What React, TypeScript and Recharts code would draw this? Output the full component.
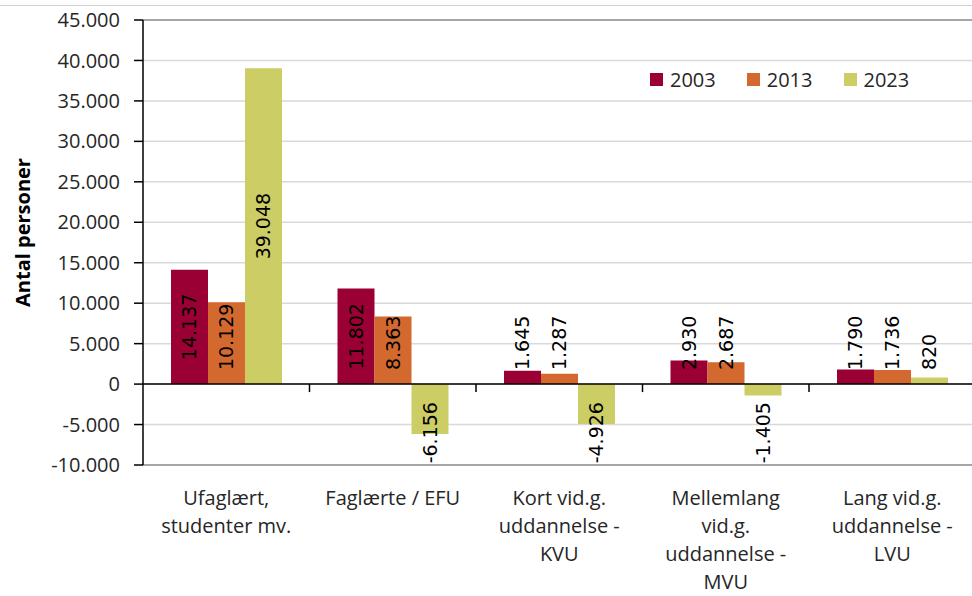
import React from 'react';
import { BarChart, Bar, XAxis, YAxis, CartesianGrid, ReferenceLine, LabelList, Legend } from 'recharts';

const categories = [
  'Ufaglært,\nstudenter mv.',
  'Faglærte / EFU',
  'Kort vid.g.\nuddannelse -\nKVU',
  'Mellemlang\nvid.g.\nuddannelse -\nMVU',
  'Lang vid.g.\nuddannelse -\nLVU',
];
const values2003 = [14137, 11802, 1645, 2930, 1790];
const values2013 = [10129, 8363, 1287, 2687, 1736];
const values2023 = [39048, -6156, -4926, -1405, 820];
const seriesNames = ['2003', '2013', '2023'];
const seriesColors = ['#9b0035', '#d4692f', '#cdcd66'];
const yTicks = [-10000, -5000, 0, 5000, 10000, 15000, 20000, 25000, 30000, 35000, 40000, 45000];
const yAxisTitle = 'Antal personer';

const data = categories.map((c, i) => ({
  category: c,
  y2003: values2003[i],
  y2013: values2013[i],
  y2023: values2023[i],
}));
const seriesKeys = ['y2003', 'y2013', 'y2023'];

const fmt = (n: number) => {
  const s = Math.abs(Math.round(n)).toString().replace(/\B(?=(\d{3})+(?!\d))/g, '.');
  return (n < 0 ? '-' : '') + s;
};

const LABEL_FONT = 19;
const textLen = (s: string) => {
  let em = 0;
  for (const ch of s) {
    if (ch === '.') em += 0.318;
    else if (ch === '-') em += 0.361;
    else em += 0.636;
  }
  return em * LABEL_FONT;
};

const BarLabel = (props: any) => {
  const vb = props.viewBox || props;
  const x = Number(vb.x ?? props.x);
  const y = Number(vb.y ?? props.y);
  const w = Number(vb.width ?? props.width);
  const h = Number(vb.height ?? props.height);
  const v = Number(props.value);
  if (isNaN(v)) return null;
  const text = fmt(v);
  const L = textLen(text);
  const top = Math.min(y, y + h);
  const bottom = Math.max(y, y + h);
  const cx = x + w / 2;
  const center = (top + bottom) / 2;
  if (v >= 0) {
    const lb = Math.min(center + L / 2, bottom - 14);
    return (
      <text
        x={cx}
        y={lb}
        transform={`rotate(-90 ${cx} ${lb})`}
        textAnchor="start"
        dominantBaseline="central"
        fontFamily="DejaVu Sans"
        fontSize={LABEL_FONT}
        fill="#000"
      >
        {text}
      </text>
    );
  }
  const lt = Math.max(center - L / 2, top + 18);
  return (
    <text
      x={cx}
      y={lt}
      transform={`rotate(-90 ${cx} ${lt})`}
      textAnchor="end"
      dominantBaseline="central"
      fontFamily="DejaVu Sans"
      fontSize={LABEL_FONT}
      fill="#000"
    >
      {text}
    </text>
  );
};

const XTick = (props: any) => {
  const { x, y, payload } = props;
  const lines = String(payload.value).split('\n');
  return (
    <text x={x} y={y} textAnchor="middle" fontFamily="Open Sans" fontSize={20} fill="#262626">
      {lines.map((l, i) => (
        <tspan key={i} x={x} dy={i === 0 ? 40 : 28}>
          {l}
        </tspan>
      ))}
    </text>
  );
};

const ZeroLine = (props: any) => {
  const { x1, y1, x2, y2 } = props;
  const n = categories.length;
  const step = (x2 - x1) / n;
  const ticks = [];
  for (let i = 1; i < n; i++) {
    const tx = x1 + i * step;
    ticks.push(<line key={i} x1={tx} y1={y1} x2={tx} y2={y1 + 8} stroke="#000" strokeWidth={1.5} />);
  }
  return (
    <g>
      <line x1={x1} y1={y1} x2={x2} y2={y2} stroke="#000" strokeWidth={1.5} />
      {ticks}
    </g>
  );
};

const LegendContent = () => (
  <div style={{ display: 'flex', alignItems: 'center', fontFamily: 'Open Sans', fontSize: 20, color: '#262626' }}>
    {seriesNames.map((n, i) => (
      <div key={n} style={{ display: 'flex', alignItems: 'center', marginRight: 31 }}>
        <div style={{ width: 13, height: 13, background: seriesColors[i], marginRight: 7 }} />
        <span>{n}</span>
      </div>
    ))}
  </div>
);

const YTitle = (props: any) => {
  const vb = props.viewBox || {};
  const cx = (vb.x ?? 0) + 22;
  const cy = (vb.y ?? 0) + (vb.height ?? 0) / 2 - 10;
  return (
    <text
      x={cx}
      y={cy}
      transform={`rotate(-90 ${cx} ${cy})`}
      textAnchor="middle"
      dominantBaseline="central"
      fontFamily="Open Sans"
      fontWeight="bold"
      fontSize={20}
      fill="#000"
    >
      {yAxisTitle}
    </text>
  );
};

export default function App() {
  return (
    <div style={{ position: 'absolute', left: 0, top: 0, width: 972, height: 596, overflow: 'hidden', background: '#fff' }}>
      <div style={{ position: 'absolute', left: 0, top: 5, width: 972, height: 0, borderTop: '1px solid #d0d0d0' }} />
      <BarChart
        width={990}
        height={596}
        data={data}
        margin={{ top: 20, right: 14.5, left: 0, bottom: 0 }}
        barCategoryGap={28}
        barGap={0}
      >
        <CartesianGrid vertical={false} stroke="#d9d9d9" strokeWidth={1.5} />
        <XAxis
          dataKey="category"
          height={131}
          axisLine={false}
          tickLine={false}
          tickSize={0}
          tickMargin={0}
          interval={0}
          tick={<XTick />}
        />
        <YAxis
          width={143}
          domain={[-10000, 45000]}
          ticks={yTicks}
          interval={0}
          tickFormatter={fmt}
          axisLine={{ stroke: '#000', strokeWidth: 1.5 }}
          tickLine={{ stroke: '#000', strokeWidth: 1.5 }}
          tickSize={9}
          tickMargin={14}
          tick={{ fontFamily: 'Open Sans', fontSize: 20, fill: '#262626' }}
          label={<YTitle />}
        />
        <ReferenceLine y={45000} stroke="#a6a6a6" strokeWidth={2} />
        <ReferenceLine y={-10000} stroke="#a6a6a6" strokeWidth={2} />
        {seriesKeys.map((k, i) => (
          <Bar key={k} dataKey={k} name={seriesNames[i]} fill={seriesColors[i]} isAnimationActive={false}>
            <LabelList dataKey={k} content={<BarLabel />} />
          </Bar>
        ))}
        <ReferenceLine y={0} shape={<ZeroLine />} />
        <Legend
          layout="horizontal"
          verticalAlign="middle"
          align="center"
          content={<LegendContent />}
          wrapperStyle={{ top: 66, left: 650, right: 'auto', bottom: 'auto', width: 'auto' }}
        />
      </BarChart>
    </div>
  );
}
